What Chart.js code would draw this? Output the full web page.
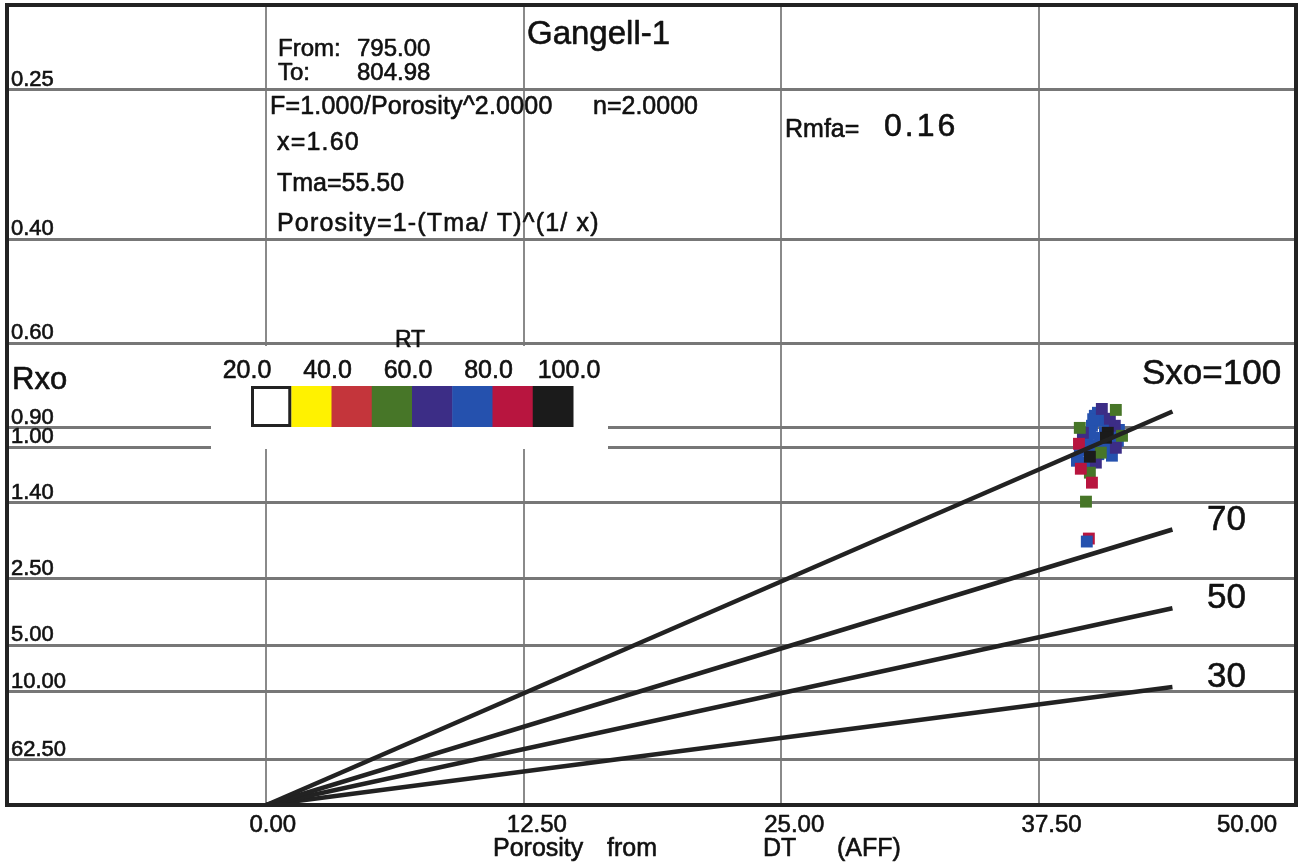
<!DOCTYPE html>
<html>
<head>
<meta charset="utf-8">
<title>Gangell-1 Rxo crossplot</title>
<script src="https://cdn.jsdelivr.net/npm/chart.js@4.4.1/dist/chart.umd.min.js"></script>
<style>
  html, body { margin: 0; padding: 0; background: #ffffff; }
  canvas { display: block; }
</style>
</head>
<body>
<canvas id="c" width="1300" height="868"></canvas>
<script>
// Well and depth interval
const wellName = 'Gangell-1';
const depthFrom = 795.00;
const depthTo = 804.98;

// Archie / sonic parameters
const aFactor = 1.0;
const mExp = 2.0;
const nExp = 2.0;
const xExp = 1.60;
const tma = 55.50;
const rmfa = 0.16;

// Axis ticks
const porosityTicks = [0, 12.5, 25, 37.5, 50];
const porosityMin = -12.6;
const porosityMax = 50;
const rxoTicks = [0.25, 0.40, 0.60, 0.90, 1.00, 1.40, 2.50, 5.00, 10.00, 62.50];
const rxoTop = 0.20;

// Flushed-zone saturation lines (percent) and their porosity extent
const sxoValues = [100, 70, 50, 30];
const sxoLineEnd = 44;

// RT colour classes
const rtBinEdges = [20, 30, 40, 50, 60, 70, 80, 90, 100];
const rtColors = ['#ffffff', '#fff200', '#c4353b', '#477628', '#3c2d86', '#2551ae', '#b8153f', '#1b1b1b'];
const rtLabelValues = [20, 40, 60, 80, 100];

// Samples: porosity (%), Rxo (ohm.m), RT (ohm.m)
const porosity = [40.23, 40.09, 40.48, 40.72, 39.84, 40.23, 41.06, 39.36, 39.75, 40.38, 40.62, 41.35, 39.50, 40.50, 39.90, 41.40,
                  40.00, 40.90, 40.40, 39.70, 41.10, 40.15, 40.80,
                  40.57, 41.20, 39.65, 41.25, 40.96, 40.28,
                  41.25, 39.50, 41.55, 40.52, 39.99, 39.80,
                  39.46, 39.55, 40.09, 39.94,
                  40.86, 40.77, 39.99,
                  39.84];
const rxo = [0.845, 0.890, 0.867, 0.924, 0.965, 0.992, 1.049, 1.080, 1.092, 0.832, 1.003, 0.965, 1.020, 0.950, 1.000, 0.910,
             0.930, 0.880, 1.040, 0.980, 0.970, 0.860, 1.010,
             0.816, 0.890, 0.924, 1.003, 0.858, 1.092,
             0.820, 0.900, 0.939, 1.031, 1.159, 1.391,
             0.981, 1.132, 1.232, 1.803,
             0.924, 0.949, 1.055,
             1.844];
const rt = [74, 76, 72, 78, 75, 73, 77, 71, 74, 76, 72, 79, 75, 73, 77, 78,
            74, 75, 73, 76, 72, 77, 74,
            65, 67, 63, 66, 68, 64,
            55, 57, 53, 56, 58, 54,
            85, 83, 87, 84,
            95, 92, 96,
            74];

// Plot coordinate: the Rxo axis runs linearly in 1/sqrt(Rxo)
const toAxis = r => 1 / Math.sqrt(r);
const fromAxis = v => 1 / (v * v);

function rtColor(v) {
  for (let i = 0; i < rtColors.length; i++) {
    if (v < rtBinEdges[i + 1]) return rtColors[i];
  }
  return rtColors[rtColors.length - 1];
}

// Sxo line: Rxo = a*Rmfa / (phi^m * Sxo^n)
function sxoAxisValue(phiPct, sxoPct) {
  const phi = phiPct / 100, s = sxoPct / 100;
  if (phi <= 0) return 0;
  return toAxis(aFactor * rmfa / (Math.pow(phi, mExp) * Math.pow(s, nExp)));
}

const samplePoints = porosity.map((p, i) => ({ x: p, y: toAxis(rxo[i]) }));
const sampleColors = rt.map(rtColor);

const sxoDatasets = sxoValues.map(s => ({
  type: 'scatter',
  label: 'Sxo=' + s,
  data: [{ x: 0, y: sxoAxisValue(0, s) }, { x: sxoLineEnd, y: sxoAxisValue(sxoLineEnd, s) }],
  showLine: true,
  borderColor: '#222222',
  borderWidth: 4.5,
  pointRadius: 0,
  order: 0
}));

const FONT = '"Liberation Sans", Arial, Helvetica, sans-serif';
const INK = '#111111';
const INK_STROKE = 0.6;

// Axes take no room of their own: the plot fills the padded box
function noAxisRoom(s) {
  if (s.isHorizontal()) s.height = 0; else s.width = 0;
  s.paddingLeft = 0; s.paddingRight = 0; s.paddingTop = 0; s.paddingBottom = 0;
}

// White panel behind the RT key (interrupts the grid)
const keyPanel = {
  id: 'keyPanel',
  beforeDatasetsDraw(chart) {
    const ctx = chart.ctx;
    ctx.save();
    ctx.fillStyle = '#ffffff';
    ctx.fillRect(211, 346, 397, 103);
    ctx.restore();
  }
};

// Filled text with a hairline outline so it reads a little heavier
function ink(ctx, text, x, y, spacing) {
  ctx.letterSpacing = spacing || '0px';
  ctx.fillText(text, x, y);
  ctx.strokeText(text, x, y);
  ctx.letterSpacing = '0px';
}

// Frame, RT key, annotations and porosity tick labels
const decorations = {
  id: 'decorations',
  afterDatasetsDraw(chart) {
    const ctx = chart.ctx;
    const a = chart.chartArea;
    const xs = chart.scales.x;
    const ys = chart.scales.y;
    ctx.save();

    // frame
    ctx.strokeStyle = '#222222';
    ctx.lineWidth = 4;
    ctx.strokeRect(a.left, a.top, a.right - a.left, a.bottom - a.top);

    // RT key boxes
    const keyLeft = 251, keyTop = 386, boxW = 40.25, boxH = 41;
    rtColors.forEach((c, i) => {
      ctx.fillStyle = c;
      ctx.fillRect(keyLeft + i * boxW, keyTop, boxW + 0.5, boxH);
    });
    ctx.strokeStyle = '#222222';
    ctx.lineWidth = 3;
    ctx.strokeRect(keyLeft + 1.5, keyTop + 1.5, boxW - 3, boxH - 3);

    ctx.fillStyle = INK;
    ctx.strokeStyle = INK;
    ctx.lineWidth = INK_STROKE;
    ctx.lineJoin = 'round';
    ctx.textBaseline = 'alphabetic';
    ctx.textAlign = 'left';

    // title and header block
    ctx.font = '33px ' + FONT;
    ink(ctx, wellName, 527, 44);
    ctx.font = '24px ' + FONT;
    ink(ctx, 'From:', 278, 56);
    ink(ctx, depthFrom.toFixed(2), 357, 56);
    ink(ctx, 'To:', 278, 80);
    ink(ctx, depthTo.toFixed(2), 357, 80);
    ctx.font = '25px ' + FONT;
    ink(ctx, 'F=' + aFactor.toFixed(3) + '/Porosity^' + mExp.toFixed(4), 270, 114, '0.2px');
    ink(ctx, 'n=' + nExp.toFixed(4), 593, 114);
    ink(ctx, 'x=' + xExp.toFixed(2), 277, 150, '1.2px');
    ink(ctx, 'Tma=' + tma.toFixed(2), 277, 191);
    ink(ctx, 'Porosity=1-(Tma/ T)^(1/ x)', 277, 231, '1.2px');
    ink(ctx, 'Rmfa=', 785, 137);
    ctx.font = '32px ' + FONT;
    ink(ctx, rmfa.toFixed(2), 884, 136, '3px');

    // axis name
    ctx.font = '31px ' + FONT;
    ink(ctx, 'Rxo', 12, 389);

    // RT key labels
    ctx.textAlign = 'center';
    ctx.font = '25px ' + FONT;
    rtLabelValues.forEach(v => {
      const px = keyLeft + (v - rtBinEdges[0]) / 10 * boxW - 4;
      ink(ctx, v.toFixed(1), px, 378);
    });
    ctx.font = '23px ' + FONT;
    ink(ctx, 'RT', 410, 347);

    // Sxo labels at the line ends
    ctx.textAlign = 'left';
    ctx.font = '35px ' + FONT;
    sxoValues.forEach((s, i) => {
      const yEnd = ys.getPixelForValue(sxoAxisValue(sxoLineEnd, s));
      if (i === 0) ink(ctx, 'Sxo=' + s, 1142, yEnd - 27);
      else ink(ctx, String(s), 1207, yEnd);
    });

    // porosity tick labels
    ctx.font = '24px ' + FONT;
    xs.ticks.forEach(t => {
      const lbl = t.value.toFixed(2);
      const w = ctx.measureText(lbl).width;
      let left = xs.getPixelForValue(t.value) - 17;
      if (left + w > a.right - 19) left = a.right - 19 - w;
      ink(ctx, lbl, left, 832);
    });
    ctx.font = '25px ' + FONT;
    ink(ctx, 'Porosity', 493, 856);
    ink(ctx, 'from', 607, 856);
    ink(ctx, 'DT', 763, 856);
    ink(ctx, '(AFF)', 837, 856);

    ctx.restore();
  }
};

new Chart(document.getElementById('c'), {
  type: 'scatter',
  data: {
    datasets: [
      ...sxoDatasets,
      {
        type: 'scatter',
        label: 'RT',
        data: samplePoints,
        pointStyle: 'rect',
        pointRadius: 8.4,
        pointBorderWidth: 0,
        pointBackgroundColor: sampleColors,
        pointBorderColor: sampleColors,
        order: 1
      }
    ]
  },
  options: {
    responsive: false,
    devicePixelRatio: 1,
    animation: false,
    events: [],
    layout: { autoPadding: false, padding: { left: 7, top: 5, right: 4, bottom: 63 } },
    plugins: {
      legend: { display: false },
      tooltip: { enabled: false },
      title: { display: false }
    },
    scales: {
      x: {
        type: 'linear',
        min: porosityMin,
        max: porosityMax,
        afterBuildTicks: s => { s.ticks = porosityTicks.map(v => ({ value: v })); },
        afterFit: noAxisRoom,
        ticks: { display: false },
        border: { display: false },
        grid: { color: '#8a8a8a', lineWidth: 2, drawTicks: false }
      },
      y: {
        type: 'linear',
        min: 0,
        max: toAxis(rxoTop),
        afterBuildTicks: s => { s.ticks = rxoTicks.map(r => ({ value: toAxis(r) })); },
        afterFit: noAxisRoom,
        ticks: {
          mirror: true,
          padding: 4,
          labelOffset: -10,
          color: INK,
          textStrokeColor: INK,
          textStrokeWidth: INK_STROKE,
          font: { family: FONT, size: 22 },
          callback: v => fromAxis(v).toFixed(2)
        },
        border: { display: false },
        grid: { color: '#777777', lineWidth: 3, drawTicks: false }
      }
    }
  },
  plugins: [keyPanel, decorations]
});
</script>
</body>
</html>
